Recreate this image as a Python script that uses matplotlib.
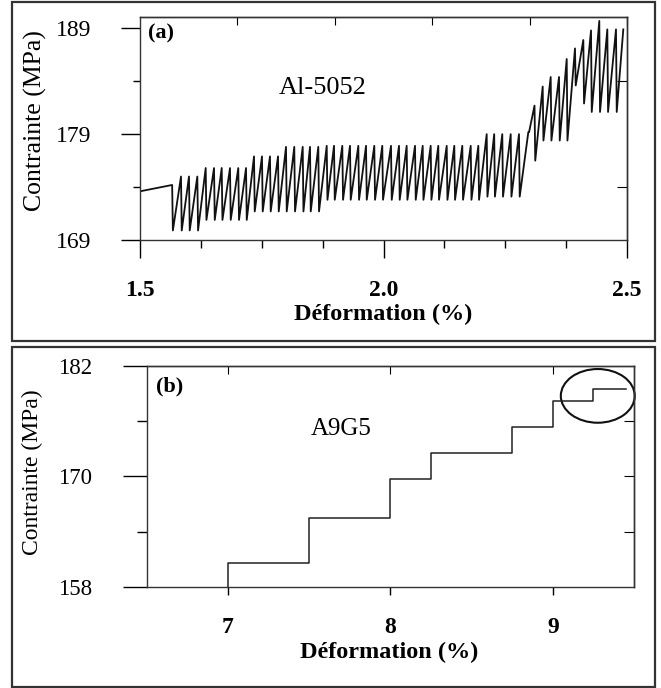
import numpy as np
import matplotlib.pyplot as plt
from matplotlib.patches import Ellipse, Rectangle

plt.rcParams['font.family'] = 'Liberation Serif'

# ---- (a) Al-5052 : serrated curve, read peak by peak ----
a_start_x, a_start_y = 1.5, 173.6
a_peak_x = [1.566, 1.5842, 1.6006, 1.6177,
            1.6349, 1.6520, 1.6678, 1.6848, 1.7018, 1.7177,
            1.7341, 1.7505, 1.7669, 1.7834,
            1.7998, 1.8168, 1.8341, 1.8491, 1.8661,
            1.8834, 1.8984, 1.9154, 1.9312, 1.9483, 1.9641, 1.9811, 1.9975,
            2.0154, 2.0318, 2.0476, 2.0647, 2.0805, 2.0969, 2.1125, 2.1298,
            2.1454, 2.1618, 2.1791, 2.1947,
            2.2119, 2.2273, 2.2439, 2.2612, 2.2782,
            2.2974, 2.3101,
            2.3269, 2.3433, 2.3604, 2.3762, 2.3932, 2.4103, 2.4261, 2.4431,
            2.4596, 2.4774]
a_peak_y = [174.2, 175.0, 175.0, 175.0,
            175.8, 175.8, 175.8, 175.8, 175.8, 175.8,
            176.9, 176.9, 176.9, 176.9,
            177.8, 177.8, 177.8, 177.8, 177.8,
            177.9, 177.9, 177.9, 177.9, 177.9, 177.9, 177.9, 177.9,
            177.9, 177.9, 177.9, 177.9, 177.9, 177.9, 177.9, 177.9,
            177.9, 177.9, 177.9, 177.9,
            179.0, 179.0, 179.0, 179.0, 179.0,
            179.2, 181.7,
            183.5, 184.4, 184.4, 186.1, 187.1, 187.9, 188.8, 189.7,
            188.9, 188.9]
a_trough_y = [169.9, 169.9, 169.9, 169.9,
              170.9, 170.9, 170.9, 170.9, 170.9, 170.9,
              171.7, 171.7, 171.7, 171.7,
              171.7, 171.7, 171.7, 171.7, 171.7,
              172.8, 172.8, 172.8, 172.8, 172.8, 172.8, 172.8, 172.8,
              172.8, 172.8, 172.8, 172.8, 172.8, 172.8, 172.8, 172.8,
              172.8, 172.8, 172.8, 172.8,
              173.1, 173.1, 173.1, 173.1, 173.1,
              179.2, 176.5,
              178.4, 178.4, 178.4, 178.4, 183.6, 181.9, 181.1, 181.1,
              181.1, 181.1]
a_end_x, a_end_y = 2.4924, 188.9

# ---- (b) A9G5 : stepped curve ----
b_strain = [7.0, 7.0, 7.5, 8.0, 8.25, 8.75, 9.0, 9.25, 9.45]
b_stress = [158.0, 160.6, 165.5, 169.7, 172.5, 175.4, 178.2, 179.5, 179.5]

W, H = 661, 688
fig = plt.figure(figsize=(W / 100, H / 100), dpi=100)

# outer frames of the two panels
fig.add_artist(Rectangle((12 / W, 1 - 341 / H), 643 / W, 339 / H, transform=fig.transFigure,
                         fill=False, lw=1.6, ec='#333333'))
fig.add_artist(Rectangle((12 / W, 1 - 687 / H), 643 / W, 340 / H, transform=fig.transFigure,
                         fill=False, lw=1.6, ec='#333333'))

# ---------- panel (a) ----------
ax1 = fig.add_axes([140 / W, 1 - 240 / H, 487 / W, 223.3 / H])
xs, ys = [a_start_x], [a_start_y]
for xp, yp, yt in zip(a_peak_x, a_peak_y, a_trough_y):
    xs += [xp, xp + 0.0015]
    ys += [yp, yt]
xs.append(a_end_x)
ys.append(a_end_y)
ax1.plot(xs, ys, color='#111111', lw=1.3)
ax1.set_xlim(1.5, 2.5)
ax1.set_ylim(169, 190.1)

ax1.set_xticks([1.5, 2.0, 2.5])
ax1.set_xticks([1.625, 1.75, 1.875, 2.125, 2.25, 2.375], minor=True)
ax1.set_yticks([169, 179, 189])
ax1.set_yticks([174, 184], minor=True)
ax1.tick_params(axis='x', which='major', direction='out', length=13, width=1, pad=16,
                labelsize=17)
ax1.tick_params(axis='x', which='minor', direction='out', length=6, width=1)
ax1.tick_params(axis='y', which='major', direction='out', length=14, width=1, pad=21,
                labelsize=17)
ax1.tick_params(axis='y', which='minor', direction='out', length=5, width=1)
for lab in ax1.get_xticklabels():
    lab.set_fontweight('bold')

top1 = ax1.secondary_xaxis('top')
top1.set_xticks([1.7, 1.9, 2.1, 2.3, 2.5])
top1.tick_params(direction='in', length=6, labeltop=False)
right1 = ax1.secondary_yaxis('right')
right1.set_yticks([174, 184])
right1.tick_params(direction='in', length=7, labelright=False)

for sp in list(ax1.spines.values()) + [top1.spines['top'], right1.spines['right']]:
    sp.set_color('#333333')
    sp.set_linewidth(1.0)

ax1.set_xlabel('Déformation (%)', fontsize=17.5, fontweight='bold')
ax1.xaxis.set_label_coords(0.5, -0.334)
ax1.xaxis.label.set_va('center')
ax1.set_ylabel('Contrainte (MPa)', fontsize=18.5)
ax1.yaxis.set_label_coords(-0.2156, 0.533)
ax1.yaxis.label.set_va('center')

ax1.text(0.017, 0.925, '(a)', transform=ax1.transAxes, fontsize=16, fontweight='bold',
         ha='left', va='center')
ax1.text(0.376, 0.68, 'Al-5052', transform=ax1.transAxes, fontsize=19,
         ha='center', va='center')

# ---------- panel (b) ----------
ax2 = fig.add_axes([146.7 / W, 1 - 586.7 / H, 487.3 / W, 220.7 / H])
ax2.step(b_strain, b_stress, where='post', color='#222222', lw=1.1)
ax2.set_xlim(6.5, 9.5)
ax2.set_ylim(158, 182)
ax2.add_patch(Ellipse((9.277, 178.75), 0.455, 5.84, fill=False, ec='#111111', lw=1.5,
                      clip_on=False))

ax2.set_xticks([7, 8, 9])
ax2.set_yticks([158, 170, 182])
ax2.set_yticks([164, 176], minor=True)
ax2.tick_params(axis='x', which='major', direction='out', length=6, width=1, pad=16,
                labelsize=17)
ax2.tick_params(axis='y', which='major', direction='out', length=17, width=1, pad=22,
                labelsize=16.5)
ax2.tick_params(axis='y', which='minor', direction='out', length=7, width=1)
for lab in ax2.get_xticklabels():
    lab.set_fontweight('bold')

top2 = ax2.secondary_xaxis('top')
top2.set_xticks([7, 8, 9])
top2.tick_params(direction='in', length=6, labeltop=False)
right2 = ax2.secondary_yaxis('right')
right2.set_yticks([164, 170, 176])
right2.tick_params(direction='in', length=7, labelright=False)

for sp in list(ax2.spines.values()) + [top2.spines['top'], right2.spines['right']]:
    sp.set_color('#333333')
    sp.set_linewidth(1.0)

ax2.set_xlabel('Déformation (%)', fontsize=17.5, fontweight='bold')
ax2.xaxis.set_label_coords(0.497, -0.3)
ax2.xaxis.label.set_va('center')
ax2.set_ylabel('Contrainte (MPa)', fontsize=17)
ax2.yaxis.set_label_coords(-0.235, 0.521)
ax2.yaxis.label.set_va('center')

ax2.text(0.02, 0.905, '(b)', transform=ax2.transAxes, fontsize=16, fontweight='bold',
         ha='left', va='center')
ax2.text(0.399, 0.715, 'A9G5', transform=ax2.transAxes, fontsize=18,
         ha='center', va='center')

fig.savefig('out.png', dpi=100)
